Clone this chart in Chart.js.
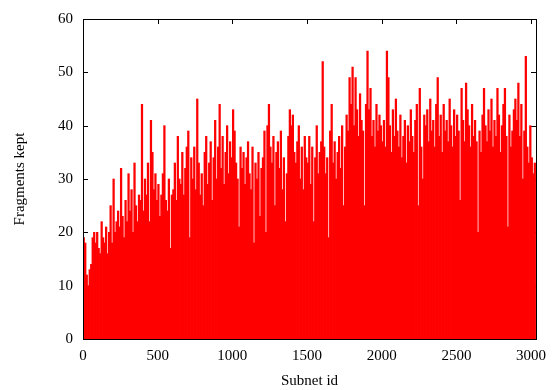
<!DOCTYPE html>
<html>
<head>
<meta charset="utf-8">
<script src="https://cdn.jsdelivr.net/npm/chart.js@4.4.1/dist/chart.umd.min.js"></script>
<style>
  html, body { margin: 0; padding: 0; background: #fff; }
  #wrap { width: 555px; height: 390px; }
</style>
</head>
<body>
<div id="wrap"><canvas id="fragChart" width="555" height="390"></canvas></div>
<script>
// Subnets grouped in bins of 10 ids, one value per bin
const binWidth = 10;
const fragmentsKept = [
  19, 18, 12, 10, 13, 14, 19, 20, 18, 20,
  17, 16, 22, 19, 18, 21, 16, 20, 25, 18,
  30, 20, 22, 24, 21, 32, 23, 19, 26, 22,
  31, 24, 28, 20, 33, 25, 22, 27, 26, 44,
  24, 30, 27, 33, 22, 41, 35, 28, 31, 26,
  29, 23, 27, 31, 40, 26, 24, 30, 17, 27,
  28, 33, 26, 38, 30, 29, 35, 27, 32, 36,
  39, 19, 34, 30, 36, 28, 45, 33, 27, 31,
  25, 35, 38, 29, 33, 37, 26, 34, 41, 30,
  36, 44, 32, 38, 29, 35, 40, 31, 37, 34,
  43, 39, 33, 30, 21, 36, 32, 35, 29, 34,
  37, 31, 28, 36, 18, 33, 30, 35, 23, 32,
  34, 39, 20, 40, 44, 36, 33, 38, 25, 35,
  37, 32, 39, 28, 34, 22, 31, 38, 43, 40,
  42, 35, 33, 37, 40, 30, 36, 28, 38, 34,
  33, 38, 29, 36, 22, 34, 40, 31, 35, 37,
  52, 36, 31, 34, 19, 39, 44, 33, 37, 30,
  35, 38, 32, 40, 25, 36, 42, 39, 49, 44,
  51, 40, 49, 43, 38, 46, 41, 39, 25, 44,
  54, 43, 47, 38, 41, 36, 44, 39, 42, 40,
  37, 41, 36, 54, 49, 40, 35, 43, 38, 45,
  39, 36, 42, 34, 38, 41, 33, 40, 37, 43,
  38, 35, 41, 44, 25, 47, 36, 30, 42, 40,
  43, 37, 45, 39, 41, 36, 44, 49, 38, 42,
  35, 44, 39, 41, 37, 45, 40, 36, 43, 38,
  42, 39, 26, 47, 41, 37, 48, 43, 40, 36,
  44, 38, 41, 37, 20, 39, 35, 42, 47, 40,
  37, 43, 39, 45, 36, 41, 38, 47, 42, 35,
  40, 44, 47, 38, 21, 42, 36, 39, 43, 45,
  41, 48, 38, 44, 30, 39, 53, 36, 33, 40,
  34, 31, 33
];
const xTicks = [0, 500, 1000, 1500, 2000, 2500, 3000];
const yTicks = [0, 10, 20, 30, 40, 50, 60];
const xMax = 3033;

const points = fragmentsKept.map((v, i) => ({ x: i * binWidth + binWidth / 2, y: v }));

const serif = '"Liberation Serif", "DejaVu Serif", serif';

// gnuplot style frame with inward ticks
const framePlugin = {
  id: 'frame',
  beforeDatasetsDraw(chart) {
    const { ctx, chartArea: a, scales } = chart;
    ctx.save();
    ctx.strokeStyle = '#000';
    ctx.lineWidth = 1;
    ctx.beginPath();
    yTicks.forEach(t => {
      const y = Math.round(scales.y.getPixelForValue(t)) + 0.5;
      ctx.moveTo(a.left, y); ctx.lineTo(a.left + 5, y);
      ctx.moveTo(a.right, y); ctx.lineTo(a.right - 5, y);
    });
    xTicks.forEach(t => {
      const x = Math.round(scales.x.getPixelForValue(t)) + 0.5;
      ctx.moveTo(x, a.top); ctx.lineTo(x, a.top + 5);
      ctx.moveTo(x, a.bottom); ctx.lineTo(x, a.bottom - 5);
    });
    ctx.stroke();
    ctx.restore();
  },
  afterDatasetsDraw(chart) {
    const { ctx, chartArea: a } = chart;
    ctx.save();
    ctx.strokeStyle = '#000';
    ctx.lineWidth = 1;
    ctx.strokeRect(Math.round(a.left) + 0.5, Math.round(a.top) + 0.5,
      Math.round(a.right - a.left), Math.round(a.bottom - a.top));
    ctx.restore();
  }
};

new Chart(document.getElementById('fragChart'), {
  type: 'bar',
  data: {
    datasets: [{
      data: points,
      backgroundColor: '#ff0000',
      borderWidth: 0,
      barThickness: 1.6,
      grouped: false
    }]
  },
  options: {
    responsive: false,
    animation: false,
    layout: { padding: { top: 13, right: 19, left: 0, bottom: 0 } },
    plugins: { legend: { display: false }, tooltip: { enabled: false } },
    scales: {
      x: {
        type: 'linear',
        min: 0,
        max: xMax,
        offset: false,
        grid: { display: false, drawTicks: false },
        border: { display: false },
        afterBuildTicks: s => { s.ticks = xTicks.map(v => ({ value: v })); },
        afterFit: s => { s.height = 51; },
        ticks: { color: '#000', font: { family: serif, size: 15 }, padding: 8, maxRotation: 0, callback: v => String(v) },
        title: { display: true, text: 'Subnet id', color: '#000', font: { family: serif, size: 15 }, padding: { top: 0, bottom: 0 } }
      },
      y: {
        min: 0,
        max: 60,
        grid: { display: false, drawTicks: false },
        border: { display: false },
        afterBuildTicks: s => { s.ticks = yTicks.map(v => ({ value: v })); },
        afterFit: s => { s.width = 83; },
        ticks: { color: '#000', font: { family: serif, size: 15 }, padding: 10, callback: v => String(v) },
        title: { display: true, text: 'Fragments kept', color: '#000', font: { family: serif, size: 15 }, padding: { top: 11, bottom: 0 } }
      }
    }
  },
  plugins: [framePlugin]
});
</script>
</body>
</html>
